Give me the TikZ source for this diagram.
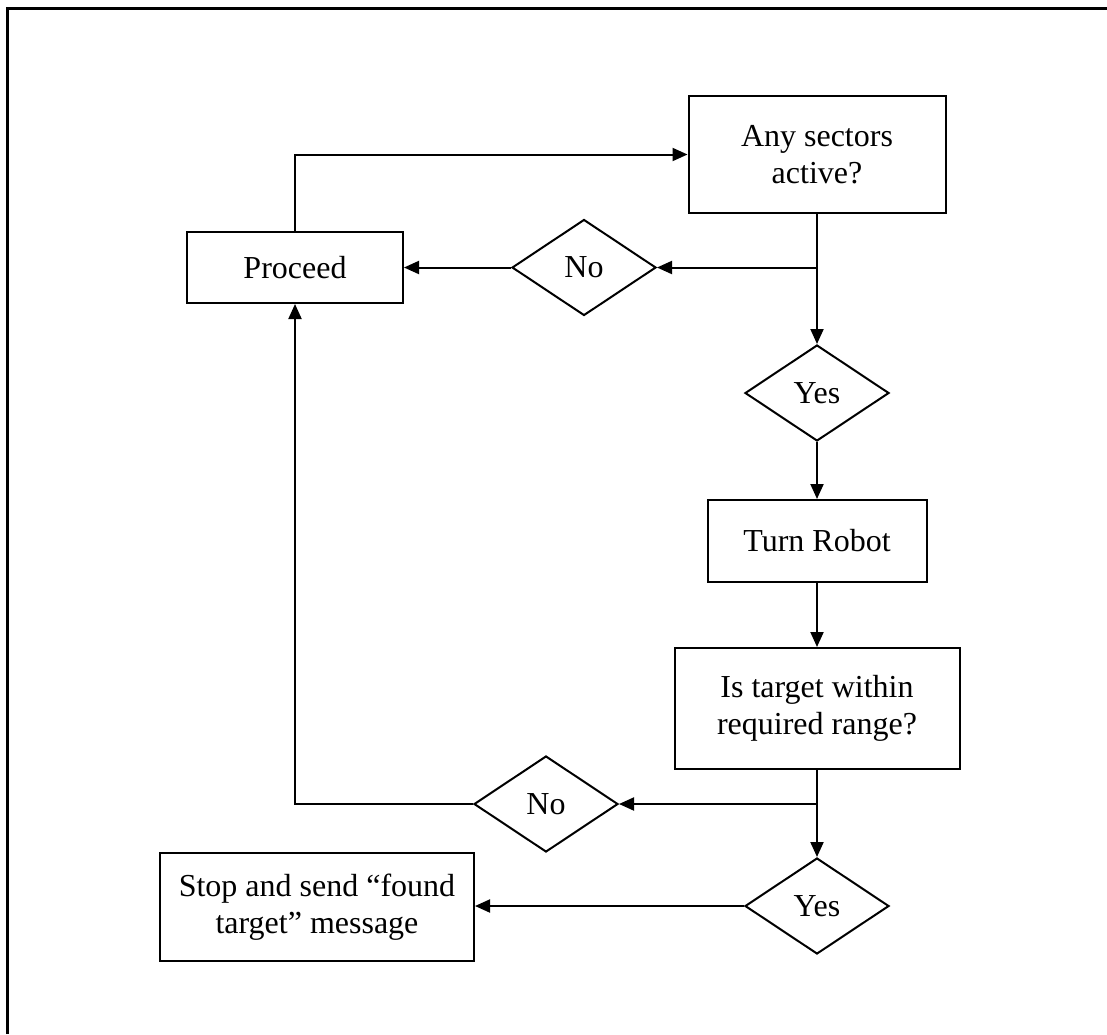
\documentclass[tikz,border=0pt]{standalone}
\usepackage{fontspec}
\setmainfont{Liberation Serif}
\usetikzlibrary{shapes.geometric,arrows.meta}
\begin{document}
\begin{tikzpicture}[x=1pt,y=-1pt,
  every node/.style={font=\fontsize{32}{37}\selectfont},
  box/.style={draw,line width=2pt,inner sep=0pt,align=center},
  choice/.style={draw,diamond,line width=2pt,inner sep=0pt,minimum width=144pt,minimum height=96pt},
  arr/.style={line width=2pt,-{Triangle[length=15pt,width=13pt]}}]
\useasboundingbox (0,0) rectangle (1107,1034);
% page frame
\draw[line width=3pt] (7,1034) -- (7,8) -- (1107,8);

\node[box,minimum width=257pt,minimum height=117pt] (any) at (817,154.5) {Any sectors\\active?};
\node[box,minimum width=216pt,minimum height=71pt] (proceed) at (295,267.5) {Proceed};
\node[choice] (no1) at (584,267.5) {No};
\node[choice] (yes1) at (817,393) {Yes};
\node[box,minimum width=219pt,minimum height=82pt] (turn) at (817,541) {Turn Robot};
\node[box,minimum width=285pt,minimum height=121pt] (target) at (817,708.5) {Is target within\\required range?};
\node[choice] (no2) at (546,804) {No};
\node[choice] (yes2) at (817,906) {Yes};
\node[box,minimum width=314pt,minimum height=108pt] (stop) at (317,907) {Stop and send ``found\\target'' message};

\coordinate (b1) at (any.south |- no1.east);
\coordinate (b2) at (target.south |- no2.east);

\draw[arr] (proceed.north) |- (any.west);
\draw[arr] (any.south) -- (yes1.north);
\draw[arr] (b1) -- (no1.east);
\draw[arr] (no1.west) -- (proceed.east);
\draw[arr] (yes1.south) -- (turn.north);
\draw[arr] (turn.south) -- (target.north);
\draw[arr] (target.south) -- (yes2.north);
\draw[arr] (b2) -- (no2.east);
\draw[arr] (no2.west) -| (proceed.south);
\draw[arr] (yes2.west) -- (stop.east |- yes2.west);
\end{tikzpicture}
\end{document}
